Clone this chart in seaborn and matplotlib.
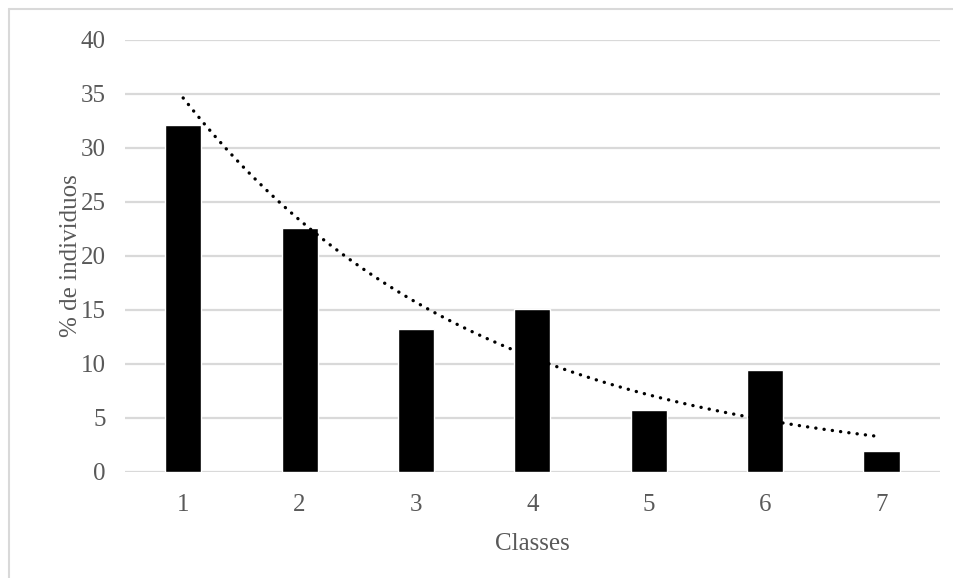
import numpy as np
import pandas as pd
import matplotlib
matplotlib.use("Agg")
import matplotlib.pyplot as plt
import seaborn as sns

classes = [1, 2, 3, 4, 5, 6, 7]
pct_individuos = [32.1, 22.6, 13.2, 15.1, 5.7, 9.4, 1.9]

sns.set_style("white")
plt.rcParams["font.family"] = ["Liberation Serif", "DejaVu Serif"]

df = pd.DataFrame({"classe": classes, "pct": pct_individuos})

# exponential trend line (as Excel does: fit on log values)
b, a = np.polyfit(df["classe"], np.log(df["pct"]), 1)
xt = np.linspace(1, 7, 200)
trend = pd.DataFrame({"classe": xt, "pct": np.exp(a + b * xt)})

fig = plt.figure(figsize=(9.54, 5.78), dpi=100)
ax = fig.add_axes([0.131, 0.184, 0.854, 0.747])

sns.barplot(data=df, x="classe", y="pct", native_scale=True, color="black",
            saturation=1, width=0.31, ax=ax, zorder=3)
sns.lineplot(data=trend, x="classe", y="pct", color="black", lw=2.4,
             ax=ax, zorder=4)
ax.lines[-1].set_linestyle((0, (0.05, 2.45)))
ax.lines[-1].set_dash_capstyle("round")

ax.set_xlim(0.5, 7.5)
ax.set_ylim(0, 40)
ax.set_yticks(range(0, 41, 5))
ax.set_xticks(classes)
ax.grid(axis="y", color="#d9d9d9", lw=1.6, zorder=0)
for s in ax.spines.values():
    s.set_visible(False)
ax.tick_params(axis="both", length=0, labelsize=18, labelcolor="#595959")
ax.tick_params(axis="y", pad=14)
ax.tick_params(axis="x", pad=16)
ax.set_xlabel("Classes", fontsize=18, color="#595959", labelpad=12)
ax.set_ylabel("% de individuos", fontsize=18, color="#595959", labelpad=-1)

# outer chart border
fig.add_artist(plt.Line2D([9 / 954, 9 / 954], [0, 1 - 9 / 578],
                          transform=fig.transFigure, color="#d9d9d9", lw=1.5))
fig.add_artist(plt.Line2D([9 / 954, 1], [1 - 9 / 578, 1 - 9 / 578],
                          transform=fig.transFigure, color="#d9d9d9", lw=1.5))

fig.savefig("out.png", dpi=100)
